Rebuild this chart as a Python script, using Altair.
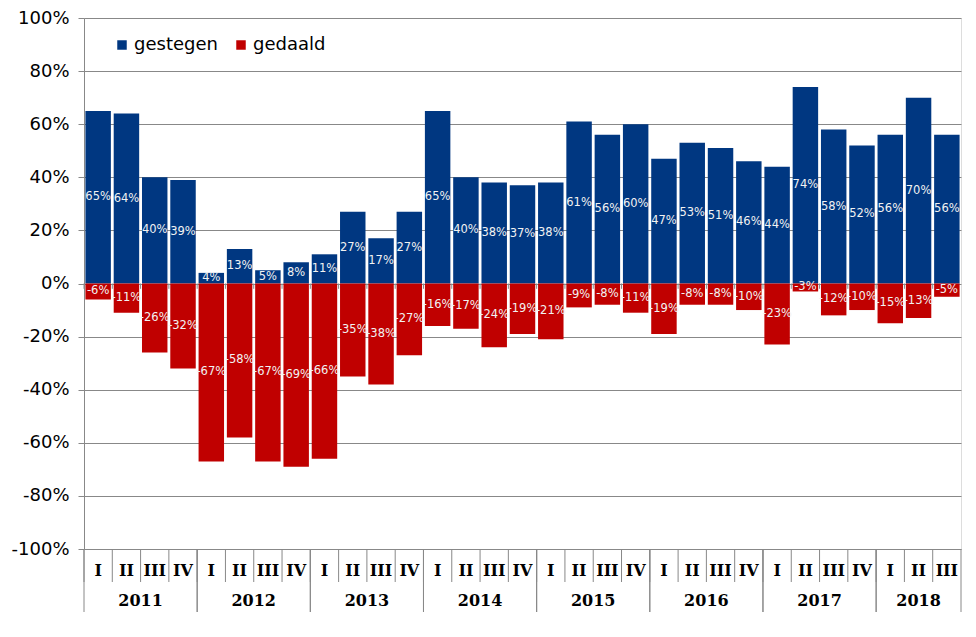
import altair as alt
import pandas as pd

years = ["2011"] * 4 + ["2012"] * 4 + ["2013"] * 4 + ["2014"] * 4 + ["2015"] * 4 + ["2016"] * 4 + ["2017"] * 4 + ["2018"] * 3
quarters = ["I", "II", "III", "IV"] * 7 + ["I", "II", "III"]
gestegen = [65, 64, 40, 39, 4, 13, 5, 8, 11, 27, 17, 27, 65, 40, 38, 37,
            38, 61, 56, 60, 47, 53, 51, 46, 44, 74, 58, 52, 56, 70, 56]
gedaald = [-6, -11, -26, -32, -67, -58, -67, -69, -66, -35, -38, -27, -16, -17, -24, -19,
           -21, -9, -8, -11, -19, -8, -8, -10, -23, -3, -12, -10, -15, -13, -5]
series_names = ["gestegen", "gedaald"]
series_colors = ["#003781", "#C00000"]
y_ticks = list(range(-100, 101, 20))

rows = []
for i, (yr, q) in enumerate(zip(years, quarters)):
    rows.append({"i": i, "year": yr, "q": q, "series": "gestegen", "value": gestegen[i]})
    rows.append({"i": i, "year": yr, "q": q, "series": "gedaald", "value": gedaald[i]})
df = pd.DataFrame(rows)
qdf = pd.DataFrame({"i": list(range(len(years))), "year": years, "q": quarters})

W, H = 877, 531
N = len(years)
GRAY = "#888888"

xscale = alt.Scale(domain=[0, N], nice=False, zero=False)
yscale = alt.Scale(domain=[-100, 100], nice=False)

base = alt.Chart(df).transform_calculate(
    x0="datum.i + 0.05", x1="datum.i + 0.95", xm="datum.i + 0.5", ym="datum.value / 2",
    lbl="datum.value + '%'"
)

bars = base.mark_bar(opacity=1).encode(
    x=alt.X("x0:Q", scale=xscale, axis=None),
    x2="x1:Q",
    y=alt.Y("value:Q", scale=yscale,
            axis=alt.Axis(values=y_ticks, labelExpr="datum.value + '%'", title=None,
                          grid=True, gridColor=GRAY, domainColor=GRAY, tickColor=GRAY,
                          tickSize=6, labelPadding=9, labelFontSize=18,
                          labelFont="DejaVu Sans", labelColor="#000000")),
    y2=alt.datum(0),
    color=alt.Color("series:N",
                    scale=alt.Scale(domain=series_names, range=series_colors),
                    legend=alt.Legend(orient="none", legendX=29, legendY=18, direction="horizontal",
                                      title=None, symbolType="square", symbolSize=90,
                                      symbolStrokeWidth=0, labelFontSize=18, labelFont="DejaVu Sans",
                                      labelColor="#000000", labelOffset=3, columnPadding=14)),
)

zero_ticks = alt.Chart(qdf).mark_rule(color=GRAY, strokeWidth=1).encode(
    x=alt.X("i:Q", scale=xscale),
    y=alt.datum(0),
    y2=alt.datum(-2),
)

labels = base.mark_text(fontSize=11.5, font="DejaVu Sans", color="#F2F2F2").encode(
    x=alt.X("xm:Q", scale=xscale),
    y=alt.Y("ym:Q", scale=yscale),
    text="lbl:N",
)

qbase = alt.Chart(qdf).transform_calculate(xm="datum.i + 0.5")
qlabels = qbase.mark_text(fontSize=16, font="DejaVu Serif", fontWeight="bold", color="#000000").encode(
    x=alt.X("xm:Q", scale=xscale),
    y=alt.value(H + 22),
    text="q:N",
)
qrules = alt.Chart(qdf).mark_rule(color=GRAY, strokeWidth=1).encode(
    x=alt.X("i:Q", scale=xscale),
    y=alt.value(H),
    y2=alt.value(H + 33),
)

ybase = alt.Chart(qdf).transform_aggregate(
    lo="min(i)", hi="max(i)", groupby=["year"]
).transform_calculate(xc="(datum.lo + datum.hi + 1) / 2", xe="datum.hi + 1")
ylabels = ybase.mark_text(fontSize=16, font="DejaVu Serif", fontWeight="bold", color="#000000").encode(
    x=alt.X("xc:Q", scale=xscale),
    y=alt.value(H + 52),
    text="year:N",
)
yrules_lo = ybase.mark_rule(color=GRAY, strokeWidth=1).encode(
    x=alt.X("lo:Q", scale=xscale),
    y=alt.value(H),
    y2=alt.value(H + 63),
)
yrules_hi = ybase.mark_rule(color=GRAY, strokeWidth=1).encode(
    x=alt.X("xe:Q", scale=xscale),
    y=alt.value(H),
    y2=alt.value(H + 63),
)

chart = alt.layer(
    bars, zero_ticks, labels, qrules, qlabels, yrules_lo, yrules_hi, ylabels
).properties(
    width=W, height=H,
    autosize=alt.AutoSizeParams(type="none"),
    padding={"left": 76, "top": 10, "right": 7, "bottom": 80},
).configure_view(
    stroke=GRAY, strokeWidth=1
).configure(background="#FFFFFF")

chart.save("out.html", embed_options={"renderer": "svg", "actions": False})
